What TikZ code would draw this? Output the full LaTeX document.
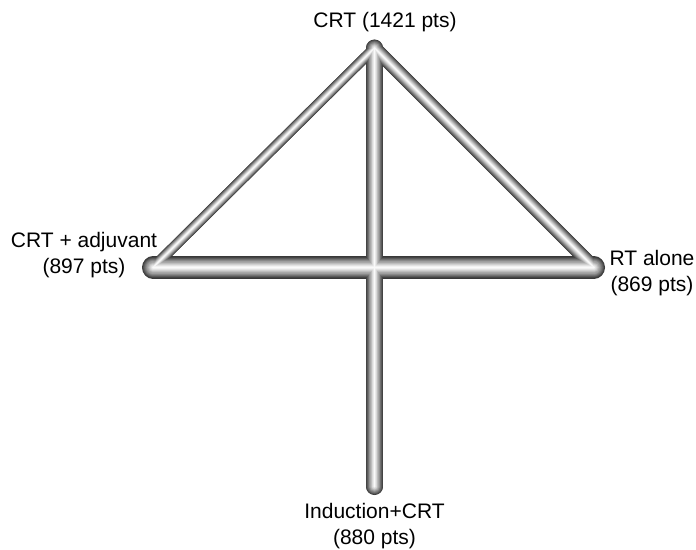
\documentclass[tikz,border=0pt]{standalone}
\usepackage{fontspec}
\setmainfont{Liberation Sans}
\begin{document}
\begin{tikzpicture}[x=1bp,y=-1bp,
  lbl/.style={font=\fontsize{21bp}{26bp}\selectfont, align=center, inner sep=0pt, text=black},
  tube/.style={line cap=round, line join=round}]
\useasboundingbox (0,0) rectangle (696,550);
\coordinate (crt) at (374.5,48);
\coordinate (adj) at (153,267.5);
\coordinate (rt) at (594,267.5);
\coordinate (ind) at (374.5,486.5);
\foreach \k in {0,...,19}{
  \pgfmathsetmacro\ff{1-\k/20}
  \pgfmathsetmacro\br{100*(0.22+0.78*(1-\ff^1.2))}
  \pgfmathsetmacro\wh{22*\ff}
  \pgfmathsetmacro\wv{17*\ff}
  \pgfmathsetmacro\wl{10.5*\ff}
  \pgfmathsetmacro\wr{14*\ff}
  \begin{scope}[tube, color=white!\br!black]
    \draw[line width=\wh bp] (adj) -- (rt);
    \draw[line width=\wv bp] (crt) -- (ind);
    \draw[line width=\wl bp] (crt) -- (adj);
    \draw[line width=\wr bp] (crt) -- (rt);
  \end{scope}
}
\node[lbl] (crtl) at (385,22) {CRT (1421 pts)};
\node[lbl] (adjl) at (84,255) {CRT + adjuvant\\(897 pts)};
\node[lbl] (rtl) at (652,273) {RT alone\\(869 pts)};
\node[lbl] (indl) at (374.5,526) {Induction+CRT\\(880 pts)};
\end{tikzpicture}
\end{document}
